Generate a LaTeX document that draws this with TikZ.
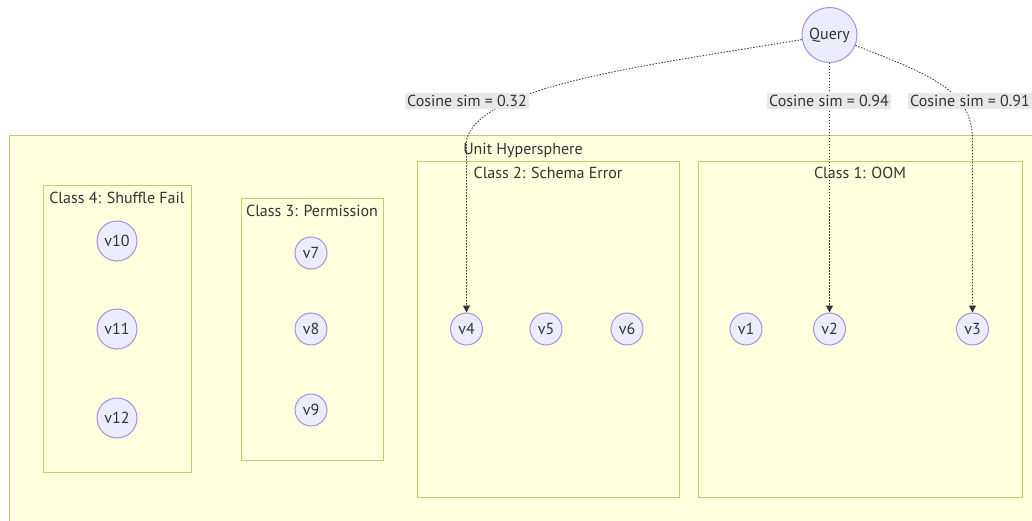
\documentclass[tikz,border=0pt]{standalone}
\usepackage{fontspec}
\setmainfont{PT Sans}
\usetikzlibrary{arrows.meta}
\definecolor{clfill}{HTML}{FFFFDE}
\definecolor{clstroke}{HTML}{C8C86E}
\definecolor{ndfill}{HTML}{ECECFF}
\definecolor{ndstroke}{HTML}{A890E0}
\definecolor{txt}{HTML}{333333}
\definecolor{lblbg}{HTML}{E8E8E8}
\tikzset{
  cluster/.style={draw=clstroke, fill=clfill, line width=1pt},
  vnode/.style={circle, draw=ndstroke, fill=ndfill, line width=1pt, inner sep=0pt, minimum size=32pt, text=txt, font=\fontsize{16}{18}\selectfont},
  bignode/.style={vnode, minimum size=40pt},
  qnode/.style={vnode, minimum size=55pt},
  title/.style={text=txt, font=\fontsize{16}{18}\selectfont, inner sep=0pt},
  lbl/.style={fill=lblbg, text=txt, font=\fontsize{16}{18}\selectfont, inner sep=2pt},
  edge/.style={draw=txt, line width=0.8pt, dash pattern=on 1.5pt off 1.5pt, -{Triangle[length=7pt,width=7pt]}},
}
\begin{document}
\begin{tikzpicture}[x=1pt,y=-1pt]
\useasboundingbox (0,0) rectangle (1032,521);
\fill[white] (0,0) rectangle (1032,521);
\begin{scope}
\clip (0,0) rectangle (1032,521);
\draw[cluster] (9,136) rectangle (1040,530);
\end{scope}
\node[title] (tu) at (523,150) {Unit Hypersphere};
\draw[cluster] (43,186) rectangle (191,472);
\draw[cluster] (241,199) rectangle (383,460);
\draw[cluster] (417,162) rectangle (679,497);
\draw[cluster] (698,162) rectangle (1022,497);
\node[title] (t4) at (117,198) {Class 4: Shuffle Fail};
\node[title] (t3) at (312,211) {Class 3: Permission};
\node[title] (t2) at (548,173) {Class 2: Schema Error};
\node[title] (t1) at (860,173) {Class 1: OOM};

\node[bignode] (v10) at (117,241) {v10};
\node[bignode] (v11) at (117,329) {v11};
\node[bignode] (v12) at (117,418) {v12};
\node[vnode] (v7) at (311,253) {v7};
\node[vnode] (v8) at (311,329) {v8};
\node[vnode] (v9) at (311,410) {v9};
\node[vnode] (v4) at (466.5,329) {v4};
\node[vnode] (v5) at (546,329) {v5};
\node[vnode] (v6) at (627,329) {v6};
\node[vnode] (v1) at (746,329) {v1};
\node[vnode] (v2) at (829.5,329) {v2};
\node[vnode] (v3) at (972.5,329) {v3};
\node[qnode] (q) at (829.5,35) {Query};

\draw[edge] (q) .. controls (650,65) and (480,85) .. (466.5,140) -- (v4);
\draw[edge] (q) -- (v2);
\draw[edge] (q) .. controls (930,75) and (972.5,90) .. (972.5,140) -- (v3);

\node[lbl] (l1) at (467,101) {Cosine sim = 0.32};
\node[lbl] (l2) at (829,101) {Cosine sim = 0.94};
\node[lbl] (l3) at (970,101) {Cosine sim = 0.91};
\end{tikzpicture}
\end{document}
